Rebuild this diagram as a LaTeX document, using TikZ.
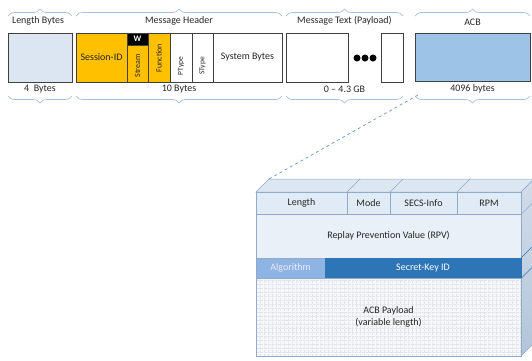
\documentclass[tikz,border=0pt]{standalone}
\usepackage{fontspec}
\setmainfont{Carlito}
\usetikzlibrary{decorations.pathreplacing}
\definecolor{lbblue}{HTML}{DCE6F2}
\definecolor{gold}{HTML}{FFC000}
\definecolor{acbblue}{HTML}{9DC3E6}
\definecolor{bracec}{HTML}{A9C0D8}
\definecolor{edgec}{HTML}{8FAACC}
\definecolor{rowlight}{HTML}{E1EBF6}
\definecolor{rpvc}{HTML}{E9F0F8}
\definecolor{algc}{HTML}{8EB4E3}
\definecolor{skc}{HTML}{2E75B6}
\definecolor{payc}{HTML}{F4F7FB}
\definecolor{topc}{HTML}{DDE7F2}
\definecolor{sidec}{HTML}{B3C5DA}
\definecolor{txt}{HTML}{262626}
\definecolor{dashc}{HTML}{7BA0C8}
\tikzset{
  fld/.style={draw=black!75, line width=0.9pt, inner sep=0pt, minimum height=49pt, text=txt, font=\fontsize{10}{12}\selectfont},
  rot/.style={rotate=90, inner sep=0pt, text=txt, font=\fontsize{8}{9}\selectfont},
  lbl/.style={inner sep=0pt, text=txt, font=\fontsize{10}{12}\selectfont},
  brc/.style={draw=bracec, line width=0.7pt, decorate, decoration={brace, amplitude=7pt}},
  cell/.style={draw=edgec, line width=0.5pt, inner sep=0pt, text=txt, font=\fontsize{10}{12}\selectfont},
  dotc/.style={circle, fill=black, inner sep=0pt, minimum size=7pt}
}
\begin{document}
\begin{tikzpicture}[x=1pt,y=-1pt]
\useasboundingbox (0,0) rectangle (532,360);
% ---- top row ----
\node[fld, fill=lbblue, minimum width=64pt] (lb) at (40,57.5) {};
\node[fld, fill=gold, minimum width=51pt] (sid) at (101.5,57.5) {Session-ID};
\node[fld, fill=gold, minimum width=21pt, minimum height=37pt] (str) at (137.5,63.5) {};
\node[fld, fill=black, minimum width=21pt, minimum height=12pt, text=white, font=\bfseries\fontsize{8.5}{9}\selectfont] (w) at (137.5,39) {W};
\node[fld, fill=gold, minimum width=22pt] (fun) at (159,57.5) {};
\node[fld, fill=white, minimum width=22pt] (pt) at (181,57.5) {};
\node[fld, fill=white, minimum width=21pt] (st) at (202.5,57.5) {};
\node[fld, fill=white, minimum width=69pt] (sys) at (247.5,57.5) {System Bytes};
\node[rot] (strl) at (137.5,66) {Stream};
\node[rot] (funl) at (159,58) {Function};
\node[rot, font=\fontsize{7.5}{8}\selectfont] (ptl) at (181,66) {PType};
\node[rot, font=\fontsize{7.5}{8}\selectfont] (stl) at (202.5,66) {SType};
\node[fld, fill=white, minimum width=62pt] (mt) at (317,57.5) {};
\node[dotc] (d1) at (357,58) {};
\node[dotc] (d2) at (365,58) {};
\node[dotc] (d3) at (373,58) {};
\node[fld, fill=white, minimum width=22pt] (sm) at (392,57.5) {};
\node[fld, fill=acbblue, minimum width=115pt, minimum height=48pt] (acb) at (472.5,57) {};
% ---- braces and labels ----
\draw[brc] (8,16) -- (72,16);
\draw[brc] (76,16) -- (282,16);
\draw[brc] (286,16) -- (403,16);
\draw[brc] (415,16) -- (530,16);
\node[lbl] (t1) at (38,21) {Length Bytes};
\node[lbl] (t2) at (179,21) {Message Header};
\node[lbl] (t3) at (344.5,21) {Message Text (Payload)};
\node[lbl] (t4) at (472.5,22) {ACB};
\draw[brc] (72,96) -- (8,96);
\draw[brc] (282,96) -- (76,96);
\draw[brc] (403,96) -- (286,96);
\draw[brc] (530,96) -- (415,96);
\node[lbl] (b1) at (40,89) {4\ \ Bytes};
\node[lbl] (b2) at (179,89) {10 Bytes};
\node[lbl] (b3) at (344.5,89) {0 -- 4.3 GB};
\node[lbl] (b4) at (472.5,89) {4096 bytes};
% ---- 3D ACB box ----
\fill[topc, draw=edgec, line width=0.5pt] (256,192) -- (269,179) -- (534,179) -- (521,192) -- cycle;
\shade[top color=sidec!60, bottom color=sidec, draw=edgec, line width=0.5pt] (521,192) -- (534,179) -- (534,343) -- (521,356) -- cycle;
\node[cell, fill=rowlight, minimum width=91pt, minimum height=22pt] (len) at (301.5,203) {Length};
\node[cell, fill=rowlight, minimum width=43pt, minimum height=22pt] (mode) at (368.5,203) {Mode};
\node[cell, fill=rowlight, minimum width=67pt, minimum height=22pt] (secs) at (423.5,203) {SECS-Info};
\node[cell, fill=rowlight, minimum width=64pt, minimum height=22pt] (rpm) at (489,203) {RPM};
\node[cell, fill=rpvc, minimum width=265pt, minimum height=44pt] (rpv) at (388.5,236) {Replay Prevention Value (RPV)};
\node[cell, fill=algc, minimum width=69pt, minimum height=20pt, text=white!92!blue] (alg) at (290.5,268) {Algorithm};
\node[cell, fill=skc, draw=skc, minimum width=196pt, minimum height=20pt, text=white] (sk) at (423,268) {Secret-Key ID};
\node[cell, fill=payc, minimum width=265pt, minimum height=78pt] (pay) at (388.5,317) {};
\draw[black!10, densely dotted, line width=0.4pt, step=4pt] (256.5,278.5) grid (520.5,355.5);
\draw[edgec, line width=0.5pt] (pay.north west) rectangle (pay.south east);
\node[lbl, align=center, font=\fontsize{10}{12}\selectfont] (payl) at (388.5,317) {ACB Payload\\(variable length)};
% top face and side face dividers
\draw[edgec, line width=0.5pt] (len.north east) -- ++(13,-13);
\draw[edgec, line width=0.5pt] (mode.north east) -- ++(13,-13);
\draw[edgec, line width=0.5pt] (secs.north east) -- ++(13,-13);
\draw[edgec, line width=0.5pt] (rpm.south east) -- ++(13,-13);
\draw[skc, line width=0.6pt] (sk.north east) -- ++(13,-13);
\draw[skc, line width=0.6pt] (sk.south east) -- ++(13,-13);
% dashed connector
\coordinate (acbc) at (418,95);
\coordinate (boxc) at (269,179);
\draw[dashc, dashed, line width=0.8pt] (acbc) -- (boxc);
\end{tikzpicture}
\end{document}
